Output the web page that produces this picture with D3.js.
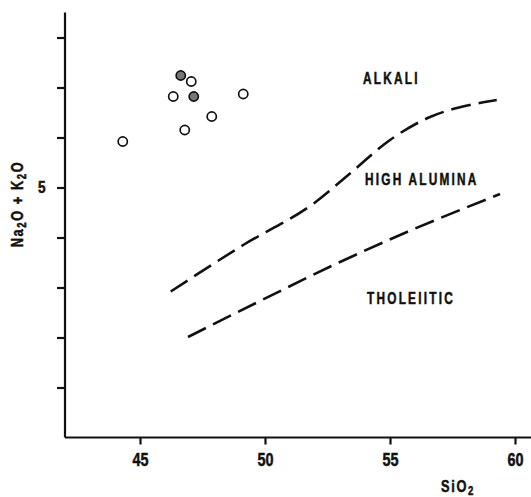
<!DOCTYPE html>
<html>
<head>
<meta charset="utf-8">
<script src="https://cdn.jsdelivr.net/npm/d3@7"></script>
<style>
  body { margin: 0; background: #fff; }
  svg text { font-family: "Liberation Sans", Arial, sans-serif; font-weight: bold; fill: #111; stroke: #111; stroke-width: 0.5px; }
</style>
</head>
<body>
<svg class="chart" width="531" height="497"></svg>
<script>
// samples: SiO2 vs Na2O + K2O
var sio2   = [46.63, 47.05, 46.33, 47.15, 49.13, 47.87, 46.79, 44.31];
var alkali = [7.24, 7.12, 6.82, 6.82, 6.87, 6.42, 6.15, 5.92];
var filled = [true, false, false, true, false, false, false, false];

// dividing lines
var upperX = [46.23, 49.13, 52.0, 53.4, 55.0, 56.6, 58.2, 59.27];
var upperY = [2.92, 3.85, 4.7, 5.28, 5.95, 6.41, 6.65, 6.75];
var lowerX = [46.92, 49.8, 53.0, 55.68, 57.8, 59.4];
var lowerY = [2.01, 2.73, 3.51, 4.11, 4.55, 4.87];

var xTicks = [45, 50, 55, 60];
var yTicks = [1, 2, 3, 4, 5, 6, 7, 8];
var yLabelled = [5];

var fields = ["ALKALI", "HIGH ALUMINA", "THOLEIITIC"];
var fieldX = [53.92, 54.0, 54.08];
var fieldY = [7.2, 5.18, 2.8];

var svg = d3.select("svg.chart");
var squeeze = 0.74;

var x = d3.scaleLinear().domain([42, 60.64]).range([65, 531]);
var y = d3.scaleLinear().domain([0, 8.5]).range([437.5, 12.5]);

var xAxis = d3.axisBottom(x).tickValues(xTicks).tickSize(7).tickPadding(9);
var yAxis = d3.axisLeft(y).tickValues(yTicks).tickSize(8).tickPadding(12)
    .tickFormat(function(d) { return yLabelled.indexOf(d) >= 0 ? d : ""; });

var gx = svg.append("g").attr("transform", "translate(0," + y(0) + ")").call(xAxis);
var gy = svg.append("g").attr("transform", "translate(" + x(42) + ",0)").call(yAxis);

[gx, gy].forEach(function(g) {
    g.attr("font-size", null).attr("font-family", null);
    g.select(".domain").attr("stroke", "#111").attr("stroke-width", 2.2);
    g.selectAll(".tick line").attr("stroke", "#111").attr("stroke-width", 2.2);
    g.selectAll(".tick text").attr("fill", "#111");
});
gx.select(".domain").attr("d", "M" + x(42) + ",0H531");
gy.select(".domain").attr("d", "M0," + y(0) + "V" + y(8.5));
gx.selectAll(".tick text")
    .style("font-size", "18px")
    .attr("transform", "scale(0.8,1)");
gy.selectAll(".tick text")
    .style("font-size", "17px")
    .attr("text-anchor", "middle")
    .attr("x", -29)
    .attr("transform", "scale(0.8,1)");

// dashed boundaries
var line = d3.line().curve(d3.curveMonotoneX);

function drawBoundary(xs, ys) {
    svg.append("path")
        .attr("d", line(xs.map(function(d, i) { return [x(d), y(ys[i])]; })))
        .attr("fill", "none")
        .attr("stroke", "#111")
        .attr("stroke-width", 2.6)
        .attr("stroke-dasharray", "20,8");
}
drawBoundary(upperX, upperY);
drawBoundary(lowerX, lowerY);

// field names
svg.selectAll(".field")
    .data(fields)
    .enter()
        .append("text")
        .attr("class", "field")
        .attr("transform", function(d, i) {
            return "translate(" + x(fieldX[i]) + "," + (y(fieldY[i]) + 6) + ") scale(" + squeeze + ",1)";
        })
        .style("font-size", "16px")
        .attr("letter-spacing", "3px")
        .text(function(d) { return d; });

// samples
svg.selectAll(".pt")
    .data(sio2)
    .enter()
        .append("circle")
        .attr("class", "pt")
        .attr("cx", function(d) { return x(d); })
        .attr("cy", function(d, i) { return y(alkali[i]); })
        .attr("r", 4.6)
        .attr("fill", function(d, i) { return filled[i] ? "#777" : "#fff"; })
        .attr("stroke", "#111")
        .attr("stroke-width", 1.7);

// axis titles
var xt = svg.append("text")
    .attr("transform", "translate(458,492) scale(0.8,1)")
    .attr("text-anchor", "middle")
    .style("font-size", "16px")
    .attr("letter-spacing", "2px");
xt.append("tspan").text("SiO");
xt.append("tspan").attr("dy", 3).style("font-size", "12px").text("2");

var yt = svg.append("text")
    .attr("transform", "translate(23,204) rotate(-90) scale(0.8,1)")
    .attr("text-anchor", "middle")
    .style("font-size", "16px")
    .attr("letter-spacing", "2px");
yt.append("tspan").text("Na");
yt.append("tspan").attr("dy", 3).style("font-size", "12px").text("2");
yt.append("tspan").attr("dy", -3).text("O + K");
yt.append("tspan").attr("dy", 3).style("font-size", "12px").text("2");
yt.append("tspan").attr("dy", -3).text("O");
</script>
</body>
</html>
